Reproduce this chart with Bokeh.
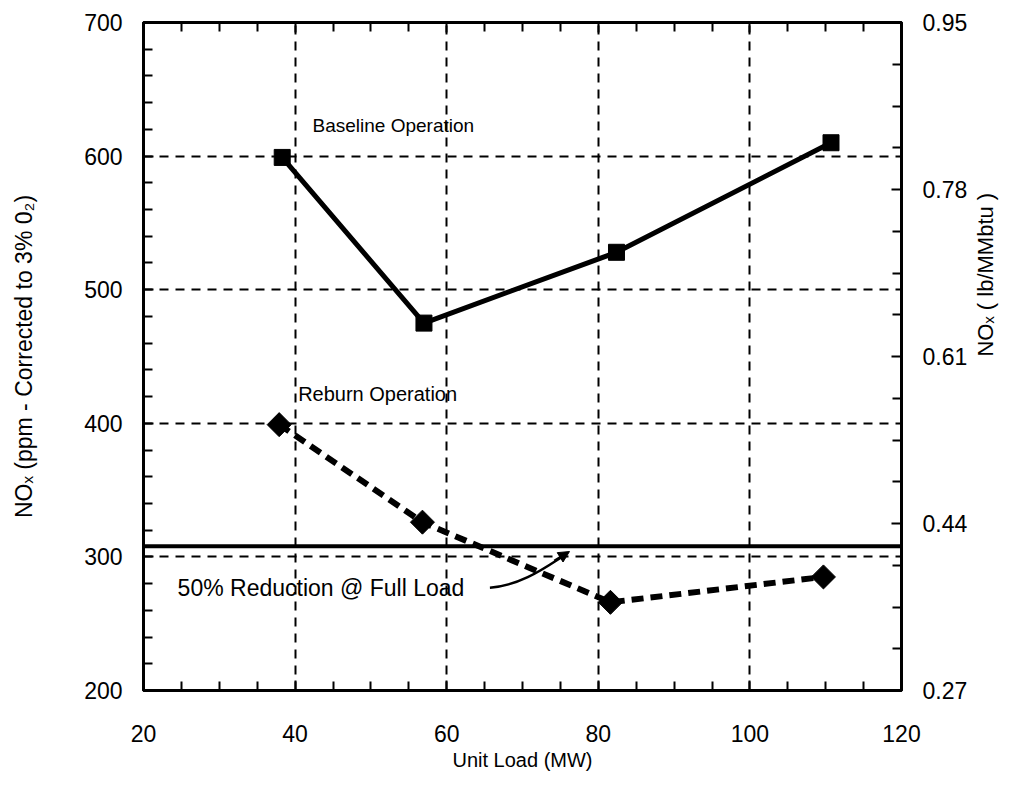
import math
from bokeh.plotting import figure
from bokeh.models import Range1d, LinearAxis, FixedTicker, Span, Label, Arrow, NormalHead
from bokeh.embed import file_html
from bokeh.resources import INLINE

# ---- data ----
baseline_load = [38.3, 57.0, 82.4, 110.7]
baseline_nox = [599, 475, 528, 610]
reburn_load = [37.9, 56.8, 81.6, 109.7]
reburn_nox = [399, 326, 266, 285]
reduction_level = 308

x_major = [20, 40, 60, 80, 100, 120]
x_minor = [25, 30, 35, 45, 50, 55, 65, 70, 75, 85, 90, 95, 105, 110, 115]
y_major = [200, 300, 400, 500, 600, 700]
y_minor = [v for v in range(200, 701, 20) if v % 100 != 0]
right_major = [0.27, 0.44, 0.61, 0.78, 0.95]
right_minor = [round(0.27 + k * 0.0425, 4) for k in range(17) if k % 4 != 0]
x_grid = [40, 60, 80, 100]
y_grid = [300, 400, 500, 600]

FONT = "Liberation Sans"

p = figure(width=1013, height=778,
           x_range=Range1d(20, 120), y_range=Range1d(200, 700),
           output_backend="svg", toolbar_location=None,
           min_border_left=143, min_border_right=111,
           min_border_top=22, min_border_bottom=88,
           x_axis_location=None, y_axis_location=None)
p.extra_y_ranges = {"right": Range1d(0.27, 0.95)}
p.outline_line_color = "black"
p.outline_line_width = 3
p.background_fill_color = "white"
p.border_fill_color = "white"

def style_axis(ax):
    ax.axis_line_color = "black"
    ax.axis_line_width = 3
    ax.major_tick_in = 10
    ax.major_tick_out = 0
    ax.minor_tick_in = 9
    ax.minor_tick_out = 0
    ax.major_tick_line_width = 2
    ax.minor_tick_line_width = 2
    ax.major_label_text_font = FONT
    ax.major_label_text_color = "black"
    ax.major_label_text_font_size = "23px"
    ax.axis_label_text_font = FONT
    ax.axis_label_text_font_style = "normal"
    ax.axis_label_text_color = "black"

xb = LinearAxis(ticker=FixedTicker(ticks=x_major, minor_ticks=x_minor))
style_axis(xb)
xb.major_label_standoff = 34
xb.axis_label = "Unit Load (MW)"
xb.axis_label_text_font_size = "20px"
xb.axis_label_standoff = 4
p.add_layout(xb, "below")

xt = LinearAxis(ticker=FixedTicker(ticks=x_major, minor_ticks=x_minor))
style_axis(xt)
xt.major_label_overrides = {t: "" for t in x_major}
xt.major_label_standoff = 0
p.add_layout(xt, "above")

yl = LinearAxis(ticker=FixedTicker(ticks=y_major, minor_ticks=y_minor))
style_axis(yl)
yl.major_label_standoff = 21
yl.axis_label = "NOₓ (ppm - Corrected to 3% 0₂)"
yl.axis_label_text_font_size = "23px"
yl.axis_label_standoff = 44
p.add_layout(yl, "left")

yr = LinearAxis(y_range_name="right",
                ticker=FixedTicker(ticks=right_major, minor_ticks=right_minor))
style_axis(yr)
yr.major_label_standoff = 21
yr.axis_label = "NOₓ ( lb/MMbtu )"
yr.axis_label_text_font_size = "22px"
yr.axis_label_standoff = 15
if "axis_label_orientation" in yr.properties():
    yr.axis_label_orientation = math.pi / 2
p.add_layout(yr, "right")

# grid
p.xgrid.ticker = FixedTicker(ticks=x_grid)
p.ygrid.ticker = FixedTicker(ticks=y_grid)
for g in (p.xgrid, p.ygrid):
    g.grid_line_color = "black"
    g.grid_line_width = 2
    g.grid_line_dash = "9 7"

# 50% reduction line
p.add_layout(Span(location=reduction_level, dimension="width",
                  line_color="black", line_width=4))

# baseline
p.line(baseline_load, baseline_nox, line_color="black", line_width=5)
p.scatter(baseline_load, baseline_nox, marker="square", size=16,
          fill_color="black", line_color="black")

# reburn
p.line(reburn_load, reburn_nox, line_color="black", line_width=6, line_dash="12 7")
p.scatter(reburn_load, reburn_nox, marker="square", size=17, angle=math.pi / 4,
          fill_color="black", line_color="black")

# annotations
for txt, x, y, fs in [("Baseline Operation", 42.3, 623, "19px"),
                      ("Reburn Operation", 40.4, 422, "20px"),
                      ("50% Reduction @ Full Load", 24.5, 277, "23px")]:
    p.add_layout(Label(x=x, y=y, text=txt, text_font=FONT, text_font_size=fs,
                       text_color="black", text_baseline="middle", text_align="left"))

# curved arrow to the reduction line
p.bezier(x0=[65.7], y0=[277], x1=[75.2], y1=[300],
         cx0=[69.7], cy0=[278.5], cx1=[73.0], cy1=[292],
         line_color="black", line_width=2.5)
p.add_layout(Arrow(x_start=74.2, y_start=297, x_end=76.2, y_end=304,
                   line_color="black", line_width=2.5,
                   end=NormalHead(size=11, fill_color="black", line_color="black")))

open("out.html", "w").write(file_html(p, INLINE))
